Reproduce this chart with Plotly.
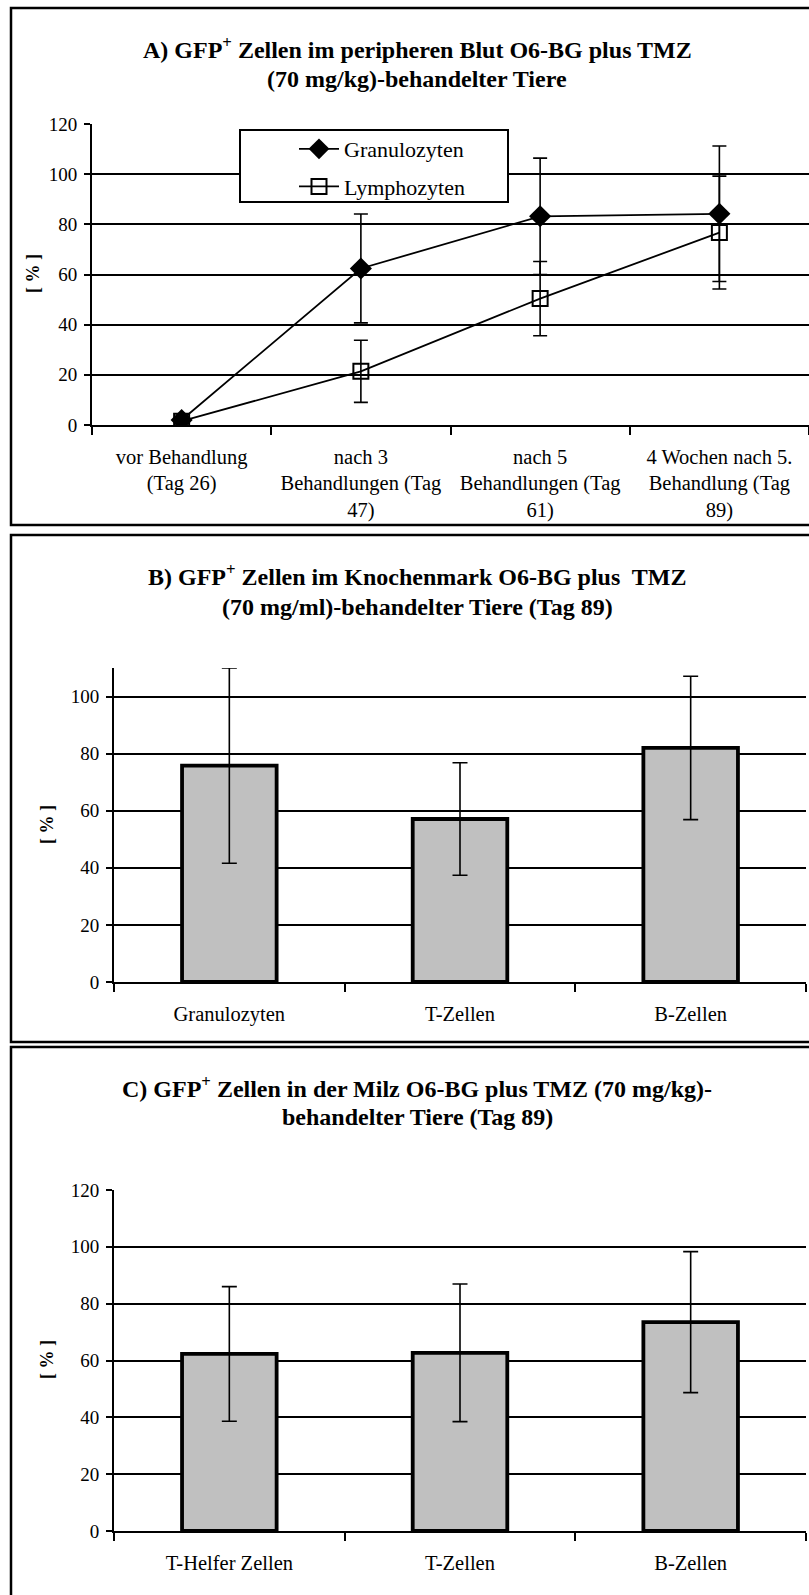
import plotly.graph_objects as go

W, H = 809, 1595
SERIF = "Liberation Serif, Times New Roman, serif"

# ---------------- data ----------------
# Panel A: GFP+ cells in peripheral blood
a_categories = ["vor Behandlung<br>(Tag 26)",
                "nach 3<br>Behandlungen (Tag<br>47)",
                "nach 5<br>Behandlungen (Tag<br>61)",
                "4 Wochen nach 5.<br>Behandlung (Tag<br>89)"]
a_granulo = [2.0, 62.4, 83.2, 84.2]
a_granulo_err = [1.0, 21.7, 23.2, 27.0]
a_lympho = [1.5, 21.4, 50.4, 76.7]
a_lympho_err = [1.0, 12.4, 14.8, 22.5]
a_yticks = [0, 20, 40, 60, 80, 100, 120]

# Panel B: bone marrow
b_categories = ["Granulozyten", "T-Zellen", "B-Zellen"]
b_values = [75.8, 57.1, 82.0]
b_err = [34.2, 19.7, 25.1]
b_yticks = [0, 20, 40, 60, 80, 100]

# Panel C: spleen
c_categories = ["T-Helfer Zellen", "T-Zellen", "B-Zellen"]
c_values = [62.3, 62.7, 73.5]
c_err = [23.7, 24.2, 24.8]
c_yticks = [0, 20, 40, 60, 80, 100, 120]

titles = {
    "A": ["A) GFP<sup>+</sup> Zellen im peripheren Blut O6-BG plus TMZ",
          "(70 mg/kg)-behandelter Tiere"],
    "B": ["B) GFP<sup>+</sup> Zellen im Knochenmark O6-BG plus  TMZ",
          "(70 mg/ml)-behandelter Tiere (Tag 89)"],
    "C": ["C) GFP<sup>+</sup> Zellen in der Milz O6-BG plus TMZ (70 mg/kg)-",
          "behandelter Tiere (Tag 89)"],
}


def px(x):
    return x / W


def py(y):
    return 1 - y / H


fig = go.Figure()

# Panel A traces
fig.add_trace(go.Scatter(
    x=a_categories, y=a_granulo, name="Granulozyten", mode="lines+markers",
    line=dict(color="black", width=1.8),
    marker=dict(symbol="diamond", size=17, color="black"),
    error_y=dict(type="data", array=a_granulo_err, visible=True,
                 color="black", thickness=1.6, width=7),
    legendgroup="g1", xaxis="x", yaxis="y"))
fig.add_trace(go.Scatter(
    x=a_categories, y=a_lympho, name="Lymphozyten", mode="lines+markers",
    line=dict(color="black", width=1.8),
    marker=dict(symbol="square-open", size=15, color="black",
                line=dict(width=2, color="black")),
    error_y=dict(type="data", array=a_lympho_err, visible=True,
                 color="black", thickness=1.6, width=7),
    legendgroup="g2", xaxis="x", yaxis="y"))

# Panel B bars
fig.add_trace(go.Bar(
    x=b_categories, y=b_values, showlegend=False,
    marker=dict(color="#c0c0c0", line=dict(color="black", width=3.8)),
    error_y=dict(type="data", array=b_err, visible=True,
                 color="black", thickness=1.6, width=7.5),
    xaxis="x2", yaxis="y2"))

# Panel C bars
fig.add_trace(go.Bar(
    x=c_categories, y=c_values, showlegend=False,
    marker=dict(color="#c0c0c0", line=dict(color="black", width=3.8)),
    error_y=dict(type="data", array=c_err, visible=True,
                 color="black", thickness=1.6, width=7.5),
    xaxis="x3", yaxis="y3"))

tickfont = dict(family=SERIF, size=19, color="black")
xtickfont = dict(family=SERIF, size=20.5, color="black")


def xaxis_cfg(dom, anchor, n):
    return dict(domain=dom, anchor=anchor, type="category",
                range=[-0.5, n - 0.5],
                tickson="boundaries", ticks="outside", ticklen=8,
                tickwidth=2, tickcolor="black", showline=True,
                linecolor="black", linewidth=2, showgrid=False,
                tickfont=xtickfont, ticklabelstandoff=12, fixedrange=True,
                automargin=False)


def yaxis_cfg(dom, anchor, rng, tickvals):
    return dict(domain=dom, anchor=anchor, range=rng, tickvals=tickvals,
                ticks="outside", ticklen=6, tickwidth=2, tickcolor="black",
                showline=True, linecolor="black", linewidth=2,
                showgrid=True, gridcolor="black", gridwidth=2,
                zeroline=False, tickfont=tickfont, ticklabelstandoff=3,
                fixedrange=True, automargin=False)


# domains
A_x = [px(92), 1.0]
A_y = [py(425), py(124)]
B_x = [px(114), px(806)]
B_y = [py(982), py(668)]
C_x = [px(114), px(806)]
C_y = [py(1531), py(1190)]

fig.update_layout(
    width=W, height=H, autosize=False, margin=dict(l=0, r=0, t=0, b=0, pad=0),
    paper_bgcolor="white", plot_bgcolor="white",
    font=dict(family=SERIF, color="black"),
    bargap=0.59,
    xaxis=xaxis_cfg(A_x, "y", len(a_categories)),
    yaxis=yaxis_cfg(A_y, "x", [0, 120], a_yticks),
    xaxis2=xaxis_cfg(B_x, "y2", len(b_categories)),
    yaxis2=yaxis_cfg(B_y, "x2", [0, 110], b_yticks),
    xaxis3=xaxis_cfg(C_x, "y3", len(c_categories)),
    yaxis3=yaxis_cfg(C_y, "x3", [0, 120], c_yticks),
    showlegend=True,
    legend=dict(x=px(294), y=py(128), xanchor="left", yanchor="top",
                bgcolor="rgba(0,0,0,0)", borderwidth=0,
                font=dict(family=SERIF, size=22, color="black"),
                traceorder="grouped", tracegroupgap=6, itemwidth=40),
)

shapes = []
# panel frames
for (y0, y1) in [(8, 525), (535, 1042), (1047, 1605)]:
    shapes.append(dict(type="rect", xref="paper", yref="paper",
                       x0=px(11), x1=1.01, y0=py(y1), y1=py(y0),
                       line=dict(color="black", width=2.5),
                       fillcolor="rgba(0,0,0,0)", layer="above"))
# legend box
shapes.append(dict(type="rect", xref="paper", yref="paper",
                   x0=px(240), x1=px(508), y0=py(202), y1=py(130),
                   line=dict(color="black", width=2),
                   fillcolor="white", layer="above"))
fig.update_layout(shapes=shapes)

annotations = []
title_pos = {"A": (48, 79), "B": (575, 607), "C": (1087, 1117)}
for key, lines in titles.items():
    for text, yc in zip(lines, title_pos[key]):
        annotations.append(dict(text="<b>" + text + "</b>", x=px(417), y=py(yc),
                                xref="paper", yref="paper", showarrow=False,
                                xanchor="center", yanchor="middle",
                                font=dict(family=SERIF, size=24, color="black")))
# y-axis titles
for xc, yc in [(33, 274), (47, 825), (47, 1360)]:
    annotations.append(dict(text="<b>[ % ]</b>", x=px(xc), y=py(yc),
                            xref="paper", yref="paper", showarrow=False,
                            textangle=-90, xanchor="center", yanchor="middle",
                            font=dict(family=SERIF, size=18, color="black")))
fig.update_layout(annotations=annotations)

fig.write_html("out.html",
               config={"responsive": False, "displayModeBar": False,
                       "staticPlot": True},
               post_script="document.body.style.margin='0';"
                           "document.body.style.overflow='hidden';")
